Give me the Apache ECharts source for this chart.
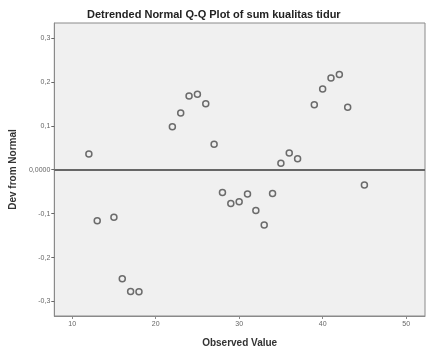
<!DOCTYPE html>
<html><head><meta charset="utf-8">
<script src="https://cdn.jsdelivr.net/npm/echarts@6/dist/echarts.min.js"></script>
<style>html,body{margin:0;padding:0;background:#fff}#c{width:429px;height:354px}</style>
</head><body><div id="c"></div>
<script>
var observed = [12,13,15,16,17,18,22,23,24,25,26,27,28,29,30,31,32,33,34,35,36,37,39,40,41,42,43,45];
var devFromNormal = [0.036,-0.116,-0.108,-0.248,-0.277,-0.278,0.098,0.129,0.168,0.172,0.150,0.058,-0.052,-0.077,-0.073,-0.055,-0.093,-0.126,-0.054,0.015,0.038,0.025,0.148,0.184,0.209,0.217,0.142,-0.035];
var xTicks = [10,20,30,40,50];
var yTicks = [-0.3,-0.2,-0.1,0,0.1,0.2,0.3];
var yTickLabels = ['-0,3','-0,2','-0,1','0,0000','0,1','0,2','0,3'];

var chart = echarts.init(document.getElementById('c'));
var pts = observed.map(function(v,i){return [v, devFromNormal[i]];});
chart.setOption({
  animation:false,
  backgroundColor:'#fff',
  title:{text:'Detrended Normal Q-Q Plot of sum kualitas tidur',left:82,top:4,
    textStyle:{fontFamily:'Liberation Sans',fontSize:11,fontWeight:'bold',color:'#222'}},
  grid:{left:52,top:23,right:4,bottom:38,show:true,backgroundColor:'#f0f0f0',borderColor:'#8a8a8a',borderWidth:1},
  xAxis:{type:'value',min:7.86,max:52.26,
    name:'Observed Value',nameLocation:'middle',nameGap:22,
    nameTextStyle:{fontFamily:'Liberation Sans',fontSize:10,fontWeight:'bold',color:'#333'},
    axisLine:{show:true,onZero:false,lineStyle:{color:'#8a8a8a'}},
    axisTick:{show:true,customValues:xTicks,length:3,lineStyle:{color:'#8a8a8a'}},
    axisLabel:{customValues:xTicks,fontFamily:'Liberation Sans',fontSize:7,color:'#666',margin:5},
    splitLine:{show:false}},
  yAxis:{type:'value',min:-0.333,max:0.334,
    name:'Dev from Normal',nameLocation:'middle',nameGap:31,nameRotate:90,
    nameTextStyle:{fontFamily:'Liberation Sans',fontSize:10,fontWeight:'bold',color:'#333'},
    axisLine:{show:true,onZero:false,lineStyle:{color:'#8a8a8a'}},
    axisTick:{show:true,customValues:yTicks,length:3,lineStyle:{color:'#666'}},
    axisLabel:{customValues:yTicks,fontFamily:'Liberation Sans',fontSize:7,color:'#666',margin:4,
      formatter:function(v){var i=yTicks.findIndex(function(t){return Math.abs(t-v)<1e-6;});return i>=0?yTickLabels[i]:'';}},
    splitLine:{show:false}},
  series:[{type:'scatter',data:pts,symbol:'circle',symbolSize:6,
    itemStyle:{color:'#f0f0f0',borderColor:'#4a4a4a',borderWidth:1.5},
    markLine:{silent:true,symbol:'none',label:{show:false},
      lineStyle:{color:'#666',width:2,type:'solid'},data:[{yAxis:0}]}}]
});
</script></body></html>
